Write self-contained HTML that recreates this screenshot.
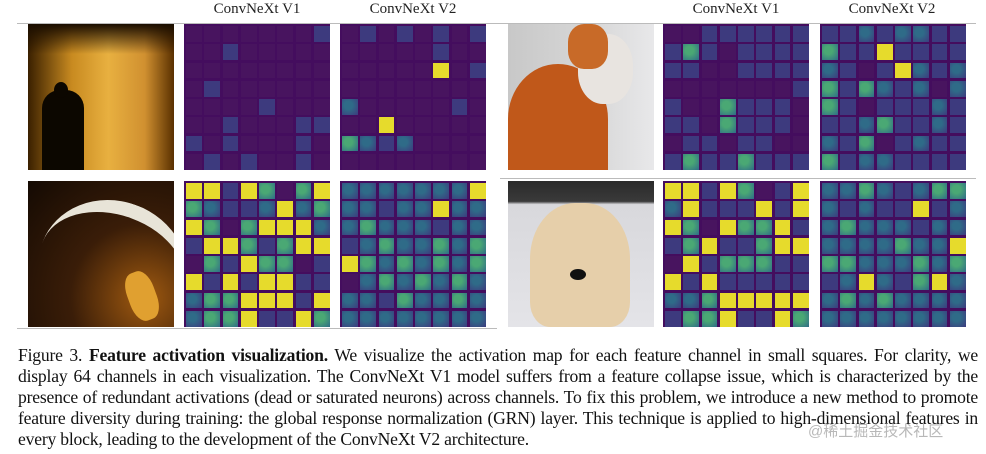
<!DOCTYPE html>
<html><head><meta charset="utf-8">
<style>
html,body{margin:0;padding:0;background:#fff;}
body{width:986px;height:454px;position:relative;overflow:hidden;font-family:"Liberation Serif",serif;}
.lbl{position:absolute;top:1px;font-size:15px;color:#222;width:160px;text-align:center;}
.hr{position:absolute;height:1px;background:#bbb;}
.photo{position:absolute;width:146px;height:146px;overflow:hidden;}
.grid{position:absolute;width:146px;height:146px;background:#440d5e;}
.cell{position:absolute;}
.cap{position:absolute;left:18px;width:960px;font-size:17.6px;color:#111;}
.ln{height:21px;line-height:21px;text-align:justify;text-align-last:justify;white-space:nowrap;letter-spacing:-0.2px;}
.ln.last{text-align-last:left;}
.wm{position:absolute;left:808px;top:420px;font-size:15px;color:rgba(160,160,160,0.75);font-family:"Liberation Sans","Noto Sans CJK SC",sans-serif;}
</style></head><body>
<div class="lbl" style="left:177px">ConvNeXt V1</div>
<div class="lbl" style="left:333px">ConvNeXt V2</div>
<div class="lbl" style="left:656px">ConvNeXt V1</div>
<div class="lbl" style="left:812px">ConvNeXt V2</div>
<div class="hr" style="left:17px;top:23px;width:959px"></div>
<div class="hr" style="left:17px;top:328px;width:480px"></div>
<div class="hr" style="left:500px;top:178px;width:476px"></div>

<div class="photo" style="left:28px;top:24px;background:linear-gradient(90deg,#3a2000,#c88a20 30%,#e8b040 55%,#d09030 80%,#5a3000);">
 <div style="position:absolute;left:0;top:0;width:146px;height:30px;background:linear-gradient(#1a0d00,rgba(0,0,0,0))"></div>
 <div style="position:absolute;left:14px;top:66px;width:42px;height:80px;background:#0c0700;border-radius:18px 18px 0 0"></div>
 <div style="position:absolute;left:26px;top:58px;width:14px;height:16px;background:#0c0700;border-radius:50%"></div>
</div>
<div class="photo" style="left:28px;top:181px;background:radial-gradient(circle at 80% 80%,#a05a10,#3a1d08 45%,#140a03);">
 <div style="position:absolute;left:10px;top:20px;width:150px;height:120px;border-radius:50%;border-top:14px solid #e8e4d8;transform:rotate(20deg)"></div>
 <div style="position:absolute;left:100px;top:90px;width:28px;height:50px;background:#e0a030;border-radius:40%;transform:rotate(-20deg)"></div>
</div>
<div class="photo" style="left:508px;top:24px;background:linear-gradient(90deg,#c8c8c8,#d8d8d8 60%,#e8e8ea);">
 <div style="position:absolute;left:0;top:40px;width:100px;height:110px;background:#c0581a;border-radius:50% 50% 0 0"></div>
 <div style="position:absolute;left:70px;top:10px;width:55px;height:70px;background:#e8e4e0;border-radius:45%"></div>
 <div style="position:absolute;left:60px;top:0px;width:40px;height:45px;background:#c86a28;border-radius:40%"></div>
</div>
<div class="photo" style="left:508px;top:181px;background:linear-gradient(#2a2a2a 0,#3a3a3a 14%,#d8d8dc 16%,#e4e4e8);">
 <div style="position:absolute;left:22px;top:22px;width:100px;height:124px;background:#e6cfaa;border-radius:45% 45% 20% 20%"></div>
 <div style="position:absolute;left:62px;top:88px;width:16px;height:11px;background:#111;border-radius:50%"></div>
</div>

<div id="grids"></div>

<div class="cap" style="top:345px">
<div class="ln">Figure 3. <b>Feature activation visualization.</b> We visualize the activation map for each feature channel in small squares. For clarity, we</div>
<div class="ln">display 64 channels in each visualization. The ConvNeXt V1 model suffers from a feature collapse issue, which is characterized by the</div>
<div class="ln">presence of redundant activations (dead or saturated neurons) across channels. To fix this problem, we introduce a new method to promote</div>
<div class="ln">feature diversity during training: the global response normalization (GRN) layer. This technique is applied to high-dimensional features in</div>
<div class="ln last">every block, leading to the development of the ConvNeXt V2 architecture.</div>
</div>
<div class="wm">@稀土掘金技术社区</div>

<script>
const palette=['#48145f','#3d3a7e','#2f6b88','#4aa874','#e6db2c'];
const gridNames=['left-top-v1','left-top-v2','left-bottom-v1','left-bottom-v2','right-top-v1','right-top-v2','right-bottom-v1','right-bottom-v2'];
const gridLeft=[184,340,184,340,663,820,663,820];
const gridTop=[24,24,181,181,24,24,181,181];
const leftTopV1=['00000001','00100000','00000000','01000000','00001000','00100011','10100010','01010010'];
const leftTopV2=['01010101','00000100','00000401','00000000','20000010','00400000','32120000','00000000'];
const leftBottomV1=['44143034','32112423','43034442','14431344','03143301','41414411','23344414','23341143'];
const leftBottomV2=['22222224','22122422','23222122','12322323','43232323','02323232','22132232','22222222'];
const rightTopV1=['00111111','13101111','11001111','00000001','10031110','11031110','01101100','13113111'];
const rightTopV2=['11212211','31141111','21014212','31321202','31011121','11231121','21301211','31221111'];
const rightBottomV1=['44143014','24111414','43043341','13411344','04133311','41411111','22344444','13341143'];
const rightBottomV2=['22321233','21211412','23222122','22223224','33222323','12421342','23232222','22222222'];
const allGrids=[leftTopV1,leftTopV2,leftBottomV1,leftBottomV2,rightTopV1,rightTopV2,rightBottomV1,rightBottomV2];
const host=document.getElementById('grids');
allGrids.forEach((g,gi)=>{
  const d=document.createElement('div');
  d.className='grid';
  
  
  d.style.left=gridLeft[gi]+'px';d.style.top=gridTop[gi]+'px';
  const step=146/8;
  g.forEach((row,r)=>{
    for(let c=0;c<8;c++){
      const v=+row[c];
      const e=document.createElement('div');
      e.className='cell';
      
      
      e.style.left=(2+c*step)+'px';e.style.top=(2+r*step)+'px';
      e.style.width=(step-2.5)+'px';e.style.height=(step-2.5)+'px';
      e.style.background=palette[v];
      if(v===2||v===3) e.style.background='radial-gradient(circle at 40% 40%,'+palette[v]+' 30%,'+palette[v-1]+' 100%)';
      d.appendChild(e);
    }
  });
  host.appendChild(d);
});
</script>
</body></html>
